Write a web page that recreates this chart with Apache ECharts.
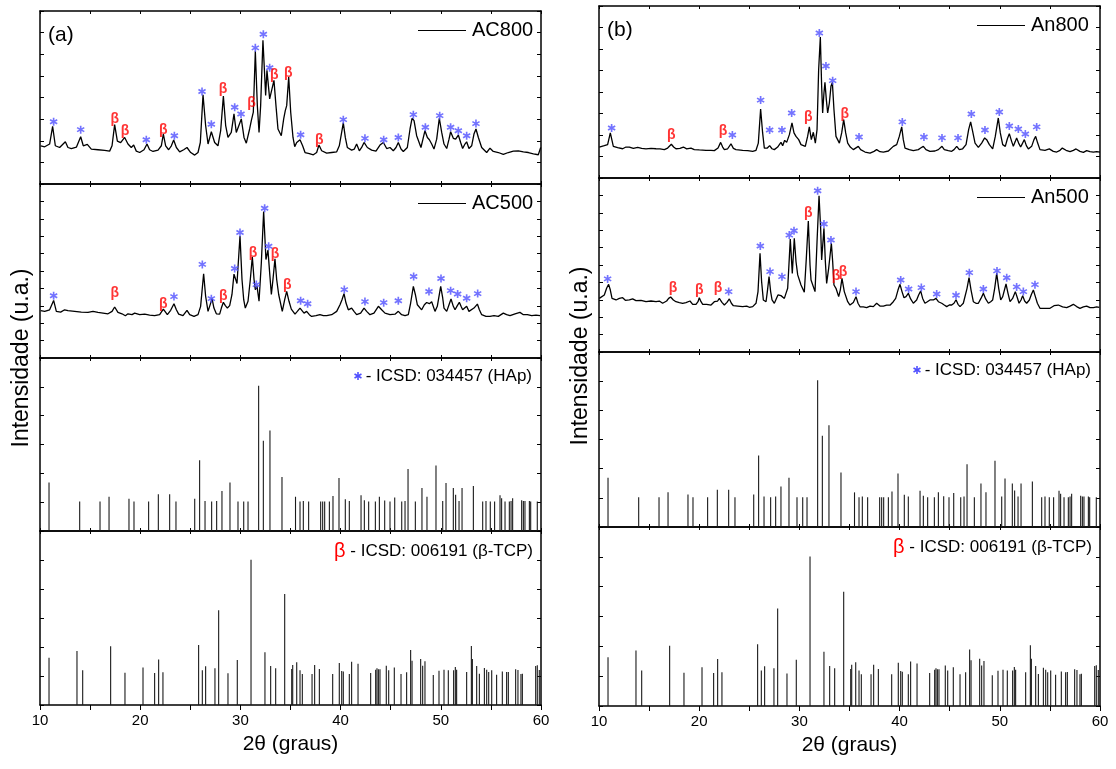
<!DOCTYPE html>
<html>
<head>
<meta charset="utf-8">
<script src="https://cdn.jsdelivr.net/npm/echarts@6/dist/echarts.min.js"></script>
<style>
  html, body { margin: 0; padding: 0; background: #ffffff; }
  #chart { width: 1116px; height: 769px; }
</style>
</head>
<body>
<div id="chart"></div>
<script>
// ---- 2θ axis -------------------------------------------------------------
const twoThetaRange = [10, 60];
const twoThetaTickStep = 5;
const twoThetaLabels = [10, 20, 30, 40, 50, 60];

// ---- Diffractograms: [2θ (°), intensity (a.u.)] ---------------------------
const ac800 = [
  [10.07,22.1],[10.47,21.5],[10.96,23.1],[11.26,33.3],[11.53,22.1],[11.96,21.1],[12.53,24.4],[12.79,21.1],
  [13.13,20.5],[13.63,21.3],[14.06,27.3],[14.32,22.1],[14.72,22.9],[15.12,20.2],[15.79,19.8],[16.45,19.4],
  [16.95,19.0],[17.19,22.1],[17.45,34.3],[17.72,24.8],[18.05,23.9],[18.45,26.9],[18.78,23.1],[19.11,21.1],
  [19.35,22.5],[19.61,19.0],[19.95,18.2],[20.38,19.8],[20.68,23.1],[20.94,19.8],[21.28,18.8],[21.78,19.6],
  [22.11,22.1],[22.31,28.9],[22.54,22.1],[22.84,19.8],[23.11,22.1],[23.34,25.4],[23.61,21.1],[23.94,18.6],
  [24.34,19.8],[24.67,21.1],[25.04,18.2],[25.44,16.7],[25.77,18.2],[26.0,24.0],[26.27,51.6],[26.53,33.8],
  [26.77,23.1],[27.1,30.2],[27.43,24.0],[27.76,22.1],[28.03,30.8],[28.3,50.8],[28.53,33.8],[28.76,26.9],
  [29.09,29.8],[29.36,40.5],[29.59,29.8],[29.76,28.9],[30.09,37.6],[30.36,26.9],[30.59,23.6],[30.92,31.8],
  [31.09,36.6],[31.29,41.5],[31.49,76.7],[31.69,45.3],[31.86,29.8],[32.02,45.3],[32.25,83.1],[32.52,51.2],
  [32.65,65.7],[32.92,49.2],[33.35,59.9],[33.55,45.3],[33.75,31.8],[34.08,27.9],[34.32,37.6],[34.48,42.4],
  [34.62,45.3],[34.82,61.8],[35.02,41.5],[35.25,26.9],[35.42,21.6],[35.62,24.0],[35.95,25.6],[36.21,22.1],
  [36.45,18.2],[36.88,17.6],[37.28,16.9],[37.61,18.2],[37.84,22.5],[38.11,19.2],[38.61,17.8],[39.11,18.2],
  [39.61,18.6],[39.87,22.1],[40.27,35.3],[40.47,26.9],[40.67,21.1],[41.1,19.6],[41.37,20.2],[41.6,23.1],
  [41.87,19.2],[42.1,21.1],[42.34,24.0],[42.67,21.1],[43.1,19.6],[43.53,19.0],[43.93,22.5],[44.27,24.0],
  [44.6,20.5],[44.93,21.1],[45.26,19.2],[45.53,21.1],[45.76,24.0],[46.03,20.2],[46.26,18.8],[46.66,21.1],
  [46.93,31.8],[47.13,38.0],[47.33,36.6],[47.59,27.9],[48.02,21.1],[48.26,26.9],[48.42,30.8],[48.66,26.9],
  [48.86,25.6],[49.09,23.1],[49.32,20.2],[49.59,25.9],[49.85,38.0],[50.09,29.8],[50.32,23.1],[50.59,20.5],
  [50.82,25.9],[50.98,30.2],[51.25,26.4],[51.48,25.9],[51.75,28.3],[51.98,24.0],[52.18,20.5],[52.41,23.1],
  [52.58,24.4],[52.81,20.5],[53.08,22.1],[53.31,28.9],[53.51,31.8],[53.75,26.9],[54.08,21.1],[54.58,18.2],
  [54.91,20.7],[55.24,18.8],[55.74,18.2],[56.24,17.1],[56.74,18.2],[57.24,19.0],[57.74,19.2],[58.24,18.6],
  [58.74,18.2],[59.24,17.4],[59.73,16.9],[59.97,21.1]
];
const ac500 = [
  [10.07,27.2],[10.47,26.8],[10.96,27.7],[11.36,33.1],[11.63,26.8],[12.06,26.4],[12.46,27.7],[12.79,27.2],
  [13.46,26.8],[14.12,26.4],[14.79,26.2],[15.29,26.8],[15.79,26.2],[16.29,25.8],[16.79,25.4],[17.19,26.8],
  [17.45,29.3],[17.78,26.2],[18.18,25.4],[18.52,24.3],[18.78,25.4],[19.18,24.9],[19.45,25.8],[19.95,24.9],
  [20.45,25.2],[20.94,24.7],[21.44,24.3],[21.94,24.9],[22.31,28.1],[22.71,24.9],[23.04,27.4],[23.37,31.2],
  [23.61,27.7],[23.84,25.2],[24.27,24.3],[24.67,27.4],[24.94,24.9],[25.37,23.9],[25.77,24.9],[26.03,29.7],
  [26.33,48.4],[26.53,35.5],[26.77,26.8],[26.93,29.7],[27.17,34.1],[27.36,28.7],[27.6,25.4],[27.93,25.2],
  [28.1,28.7],[28.3,32.0],[28.5,30.1],[28.7,28.7],[28.93,30.1],[29.16,36.5],[29.36,48.2],[29.49,48.6],
  [29.66,42.8],[29.79,54.7],[29.96,70.1],[30.16,45.1],[30.33,33.5],[30.49,28.7],[30.76,32.6],[30.99,45.1],
  [31.19,58.2],[31.36,45.1],[31.49,39.3],[31.66,41.2],[31.86,32.6],[32.09,54.7],[32.32,84.2],[32.55,56.6],
  [32.75,62.0],[32.92,48.9],[33.09,36.5],[33.25,45.1],[33.45,57.0],[33.62,45.1],[33.82,36.5],[34.18,26.8],
  [34.42,33.5],[34.62,38.3],[34.85,32.6],[35.08,28.1],[35.45,25.2],[35.68,26.8],[35.95,28.7],[36.35,25.8],
  [36.61,26.8],[36.88,24.9],[37.11,23.9],[37.54,24.3],[37.94,24.9],[38.28,24.3],[38.61,24.3],[39.11,24.9],
  [39.61,26.8],[39.94,30.6],[40.14,33.5],[40.34,37.0],[40.54,31.6],[40.77,27.7],[41.1,28.7],[41.34,26.8],
  [41.6,24.9],[42.0,25.8],[42.34,28.7],[42.6,26.8],[42.93,24.9],[43.33,25.8],[43.77,29.7],[44.1,27.7],
  [44.43,25.8],[44.93,24.9],[45.43,25.2],[45.76,26.8],[46.09,24.9],[46.43,24.3],[46.76,24.9],[46.99,31.6],
  [47.26,41.2],[47.46,36.5],[47.66,30.6],[48.09,27.7],[48.36,30.6],[48.59,31.9],[48.86,31.2],[49.09,32.3],
  [49.42,26.8],[49.65,29.7],[49.99,41.2],[50.19,34.5],[50.32,28.7],[50.59,26.8],[50.82,30.6],[51.02,33.9],
  [51.25,29.7],[51.42,27.7],[51.65,30.1],[51.85,32.0],[52.02,29.7],[52.18,27.7],[52.58,29.7],[52.81,26.8],
  [52.98,25.8],[53.31,28.7],[53.65,31.0],[53.85,27.7],[54.08,24.9],[54.51,23.9],[54.91,23.9],[55.31,24.3],
  [55.74,23.9],[56.24,25.8],[56.57,24.9],[56.91,24.3],[57.41,25.4],[57.9,26.2],[58.24,24.9],[58.64,24.9],
  [59.07,24.3],[59.5,24.7],[59.9,24.3]
];
const an800 = [
  [10.03,18.0],[10.53,18.8],[10.86,19.4],[11.13,26.2],[11.43,18.4],[11.86,17.6],[12.36,17.0],[12.69,18.0],
  [13.03,18.0],[13.43,17.2],[13.86,17.8],[14.26,17.2],[14.69,16.9],[15.19,17.2],[15.69,17.0],[16.09,16.9],
  [16.52,16.5],[16.85,17.4],[17.22,19.6],[17.45,18.0],[17.68,17.0],[18.08,17.2],[18.42,18.0],[18.75,16.9],
  [19.18,17.4],[19.51,16.5],[20.01,16.3],[20.68,16.1],[21.18,16.1],[21.51,15.9],[21.88,17.4],[22.14,20.7],
  [22.34,18.0],[22.51,16.5],[22.84,17.0],[23.17,19.9],[23.41,17.2],[23.67,16.5],[24.34,16.1],[24.84,15.9],
  [25.34,15.5],[25.67,16.1],[25.9,20.3],[26.13,40.1],[26.33,26.2],[26.5,17.4],[26.8,17.4],[27.03,18.8],
  [27.26,17.0],[27.5,16.5],[27.83,18.0],[28.0,19.4],[28.16,20.7],[28.33,18.8],[28.53,21.9],[28.73,20.7],
  [29.0,25.2],[29.26,32.0],[29.46,26.2],[29.66,24.2],[29.93,22.3],[30.16,19.4],[30.59,18.4],[30.82,24.2],
  [30.99,29.7],[31.19,22.3],[31.39,26.6],[31.59,20.3],[31.76,28.1],[31.92,62.9],[32.09,82.0],[32.22,53.3],
  [32.32,37.8],[32.45,49.4],[32.55,55.6],[32.69,45.4],[32.82,37.8],[32.99,43.6],[33.15,53.3],[33.29,55.6],
  [33.45,39.7],[33.65,24.2],[33.99,20.3],[34.22,26.2],[34.42,33.9],[34.62,26.2],[34.82,20.3],[35.08,18.0],
  [35.38,16.5],[35.55,16.9],[35.88,18.4],[36.11,16.5],[36.55,15.1],[37.05,14.5],[37.45,15.5],[37.71,16.5],
  [38.04,15.3],[38.38,15.1],[38.88,15.7],[39.37,18.4],[39.71,19.4],[39.97,24.2],[40.21,29.7],[40.37,22.3],
  [40.54,17.4],[40.97,16.5],[41.37,15.9],[41.87,16.5],[42.1,17.4],[42.37,18.4],[42.63,16.5],[43.03,15.5],
  [43.53,15.7],[43.87,16.5],[44.23,18.4],[44.46,16.5],[44.86,15.9],[45.2,15.5],[45.43,16.5],[45.7,18.4],
  [45.96,16.5],[46.29,17.0],[46.63,19.4],[46.89,28.1],[47.09,32.6],[47.29,27.1],[47.53,20.3],[47.86,17.8],
  [48.19,20.3],[48.49,23.3],[48.69,22.3],[48.96,19.4],[49.29,16.9],[49.55,24.2],[49.85,34.9],[50.05,26.2],
  [50.29,19.4],[50.55,18.4],[50.75,22.7],[50.95,25.8],[51.18,21.3],[51.35,18.4],[51.55,21.3],[51.68,23.3],
  [51.88,20.3],[52.08,18.0],[52.28,20.3],[52.45,22.3],[52.65,18.8],[52.85,16.9],[53.18,18.4],[53.41,22.3],
  [53.58,24.2],[53.78,20.3],[54.01,16.5],[54.51,16.1],[54.94,16.9],[55.34,15.5],[55.68,15.1],[56.01,16.1],
  [56.24,17.4],[56.61,16.1],[57.01,15.3],[57.34,16.1],[57.61,16.9],[58.0,15.5],[58.34,14.9],[58.67,15.9],
  [59.0,15.3],[59.34,15.1],[59.67,15.3],[60.0,15.1]
];
const an500 = [
  [10.03,30.8],[10.53,32.8],[10.76,36.6],[10.96,38.9],[11.13,35.6],[11.3,30.8],[11.7,29.9],[12.03,30.8],
  [12.36,31.2],[12.63,29.7],[13.03,29.9],[13.36,30.5],[13.69,29.5],[14.19,29.7],[14.69,28.9],[15.19,29.3],
  [15.69,28.9],[16.02,29.3],[16.35,28.0],[16.75,29.3],[16.95,30.8],[17.15,31.6],[17.42,29.9],[17.68,28.9],
  [18.02,28.4],[18.35,28.0],[18.68,28.4],[19.08,29.3],[19.35,27.4],[19.68,27.4],[19.88,28.9],[20.01,31.2],
  [20.18,28.9],[20.35,27.4],[20.74,27.4],[21.18,27.0],[21.51,28.9],[21.68,29.9],[21.84,29.3],[22.01,30.8],
  [22.27,28.5],[22.51,27.0],[22.77,28.5],[23.01,30.5],[23.21,28.0],[23.41,26.6],[23.84,26.4],[24.34,26.1],
  [24.74,26.4],[25.0,25.7],[25.34,26.1],[25.67,28.0],[25.87,34.7],[26.07,56.7],[26.23,40.4],[26.4,29.9],
  [26.67,28.9],[26.8,34.7],[26.97,43.3],[27.13,34.7],[27.27,29.9],[27.5,28.0],[27.66,28.0],[27.86,32.8],
  [28.0,33.7],[28.16,32.4],[28.33,33.1],[28.5,30.8],[28.66,33.7],[28.83,36.6],[28.99,53.8],[29.09,64.9],
  [29.29,45.2],[29.49,65.3],[29.66,52.0],[29.83,44.3],[30.16,38.5],[30.49,34.3],[30.69,53.8],[30.89,75.3],
  [31.06,50.0],[31.16,41.4],[31.32,40.4],[31.56,34.7],[31.76,63.4],[31.96,89.8],[32.12,71.1],[32.22,52.9],
  [32.45,71.1],[32.59,52.0],[32.72,39.4],[32.92,48.1],[33.19,62.5],[33.32,52.0],[33.45,38.5],[33.65,36.6],
  [33.92,31.8],[34.08,35.6],[34.25,42.3],[34.48,34.7],[34.65,33.7],[34.82,28.9],[35.05,27.0],[35.38,28.5],
  [35.65,31.8],[35.85,28.0],[36.05,26.0],[36.38,25.9],[36.71,25.5],[37.05,26.4],[37.38,26.1],[37.71,28.0],
  [38.04,26.4],[38.38,26.4],[38.71,26.9],[39.04,26.9],[39.37,28.9],[39.61,30.8],[39.84,35.6],[40.04,38.9],
  [40.24,34.7],[40.44,31.2],[40.64,31.8],[40.87,33.7],[41.1,30.5],[41.37,28.0],[41.7,29.9],[41.9,32.8],
  [42.1,35.1],[42.3,30.8],[42.53,28.0],[42.77,28.9],[43.03,29.9],[43.37,29.9],[43.63,30.8],[43.87,28.9],
  [44.2,28.0],[44.46,27.0],[44.7,26.1],[44.96,27.0],[45.2,27.0],[45.43,28.0],[45.63,30.0],[45.83,27.4],
  [46.03,26.1],[46.36,28.0],[46.53,28.9],[46.73,36.6],[46.93,42.7],[47.13,35.6],[47.36,28.9],[47.62,28.0],
  [47.86,28.0],[48.12,30.8],[48.36,33.7],[48.59,30.5],[48.86,28.0],[49.09,28.9],[49.29,29.9],[49.49,36.6],
  [49.69,45.2],[49.89,36.6],[50.09,29.9],[50.29,31.8],[50.62,39.1],[50.82,33.7],[51.02,28.9],[51.28,30.8],
  [51.55,34.7],[51.75,31.2],[51.92,28.0],[52.12,29.9],[52.28,32.4],[52.48,29.3],[52.68,28.0],[52.95,29.9],
  [53.15,33.1],[53.35,35.6],[53.55,31.8],[53.75,28.0],[54.01,25.1],[54.51,25.1],[55.01,25.1],[55.41,26.6],
  [55.84,27.0],[56.27,25.9],[56.67,25.5],[57.01,26.4],[57.34,27.4],[57.67,26.1],[58.0,25.1],[58.34,25.9],
  [58.67,26.4],[59.0,25.5],[59.34,25.5],[59.67,25.9],[59.93,25.7]
];

// ---- Phase marks on the diffractograms: [2θ, mark height] ----------------
const ac800Hap = [[11.36,36.0],[14.06,31.4],[20.61,25.6],[23.41,27.9],[26.17,53.5],[27.1,34.5],[29.43,44.4],
  [30.06,40.5],[31.49,78.7],[32.29,86.6],[32.92,67.2],[36.01,28.5],[40.27,37.2],[42.43,26.4],[44.3,25.6],
  [45.76,26.9],[47.26,40.1],[48.46,32.8],[49.89,39.5],[50.98,32.8],[51.75,30.8],[52.58,27.9],[53.51,34.9]];
const ac800Tcp = [[17.45,37.6],[18.48,30.4],[22.31,31.2],[28.26,54.7],[31.12,46.9],[33.39,62.8],[34.78,64.1],[37.88,25.6]];
const ac500Hap = [[11.36,35.8],[23.37,35.3],[26.2,53.8],[27.1,34.1],[29.43,51.4],[29.96,72.1],[31.59,42.2],
  [32.42,86.1],[32.82,64.2],[36.01,32.9],[36.71,31.2],[40.37,39.3],[42.43,32.4],[44.3,31.8],[45.76,32.9],
  [47.29,46.8],[48.82,38.2],[50.02,45.7],[50.98,38.7],[51.68,36.8],[52.58,34.3],[53.68,37.0]];
const ac500Tcp = [[17.45,37.4],[22.31,31.2],[28.3,35.4],[31.26,60.5],[33.45,59.9],[34.68,41.6]];
const an800Hap = [[11.26,29.1],[23.31,25.0],[26.13,45.3],[27.03,27.9],[28.26,27.9],[29.23,37.8],[31.99,84.3],
  [32.65,65.1],[33.32,56.6],[35.95,23.8],[40.27,32.6],[42.43,23.8],[44.23,23.3],[45.83,23.3],[47.16,37.2],
  [48.52,27.9],[49.95,38.4],[50.95,30.2],[51.85,28.5],[52.55,25.6],[53.68,29.7]];
const an800Tcp = [[17.22,25.0],[22.37,27.5],[30.89,35.3],[34.52,37.4]];
const an500Hap = [[10.86,42.0],[22.94,34.7],[26.1,60.9],[27.07,46.2],[28.26,43.3],[28.99,67.2],[29.46,69.7],
  [31.82,92.7],[32.45,73.6],[33.15,64.4],[35.65,34.7],[40.11,41.4],[40.9,36.2],[42.17,37.0],[43.7,33.3],
  [45.63,32.6],[46.96,45.6],[48.36,36.2],[49.72,46.6],[50.69,42.7],[51.68,37.4],[52.35,34.7],[53.51,38.7]];
const an500Tcp = [[17.38,36.6],[20.01,35.6],[21.88,36.6],[30.89,79.7],[33.65,43.7],[34.35,45.8]];

// ---- Reference patterns: [2θ, relative intensity] -----------------------
const hapIcsd034457 = [
  [10.9,28.1],[13.96,17.0],[15.99,17.0],[16.89,19.8],[18.88,18.6],[19.38,17.0],[20.84,17.0],[21.81,21.3],
  [22.94,21.3],[23.57,17.0],[25.44,18.6],[25.93,40.9],[26.47,17.4],[27.13,17.0],[27.63,17.4],[28.16,23.1],
  [28.96,28.1],[29.76,17.0],[30.33,17.0],[30.76,17.0],[31.82,83.9],[32.29,52.1],[32.95,58.1],[34.15,31.2],
  [35.5,19.8],[35.95,17.0],[36.28,17.4],[36.81,17.0],[38.01,17.0],[38.21,17.0],[38.41,17.0],[38.88,17.0],
  [39.24,20.3],[39.84,30.6],[40.47,18.4],[40.87,17.4],[42.04,20.7],[42.37,17.8],[42.8,17.0],[43.47,17.0],
  [43.87,19.8],[44.4,17.6],[44.93,17.0],[45.4,19.4],[46.1,17.0],[46.43,17.4],[46.73,35.9],[47.46,17.0],
  [48.12,24.8],[48.62,19.8],[49.52,37.8],[50.19,17.4],[50.52,27.7],[51.25,24.8],[51.48,20.9],[51.82,17.4],
  [52.12,24.8],[53.25,26.0],[54.18,17.0],[54.51,17.4],[54.94,17.0],[55.37,17.0],[55.91,20.7],[56.07,19.0],
  [56.41,17.0],[56.84,17.0],[57.01,17.4],[57.17,19.0],[58.07,17.8],[58.24,17.4],[58.4,17.4],[58.84,17.4],
  [58.97,17.0],[59.63,17.0]
];
const tcpIcsd006191 = [
  [10.9,27.2],[13.69,31.0],[14.26,19.9],[17.05,33.7],[18.48,18.6],[20.28,21.6],[21.44,18.4],[21.84,26.2],
  [22.27,18.8],[25.83,34.5],[26.2,19.9],[26.53,22.2],[27.46,21.1],[27.83,54.4],[28.76,18.2],[29.69,25.9],
  [31.06,83.5],[32.45,30.3],[33.02,22.4],[33.52,21.1],[34.42,63.8],[35.12,20.7],[35.22,23.0],[35.62,24.5],
  [35.95,19.9],[36.18,17.8],[37.15,17.8],[37.41,23.0],[37.88,20.7],[39.21,17.8],[39.87,24.1],[40.11,19.5],
  [40.27,19.2],[40.87,17.8],[41.1,24.9],[41.74,23.7],[43.0,18.4],[43.5,20.3],[43.63,21.1],[43.77,20.5],
  [43.93,20.5],[44.56,22.6],[44.8,19.9],[45.36,21.6],[46.03,17.8],[46.59,18.8],[46.99,31.6],[47.13,25.5],
  [47.99,26.4],[48.19,22.6],[48.42,25.1],[49.25,17.2],[49.82,19.7],[50.32,20.3],[50.75,19.9],[51.28,19.9],
  [51.45,21.8],[51.58,20.3],[52.58,18.9],[53.05,33.9],[53.15,26.4],[53.58,22.4],[53.85,17.9],[54.35,21.3],
  [54.58,20.3],[54.78,18.9],[55.08,19.9],[55.57,17.4],[56.14,19.3],[56.57,18.9],[56.74,19.0],[57.47,20.5],
  [57.7,20.1],[58.0,17.8],[58.14,18.0],[59.47,22.4],[59.63,22.8],[59.83,20.1]
];

// ---- Styling ------------------------------------------------------------
const FONT = '"Liberation Sans", Arial, Helvetica, sans-serif';
const HAP_BLUE = '#5050ff';
const TCP_RED = '#ff0000';
// six-spoke asterisk built from three bars (half-length 5, half-width 1)
const STAR_BARS = [
  [[-1,-5],[1,-5],[1,5],[-1,5]],
  [[3.83,-3.37],[4.83,-1.63],[-3.83,3.37],[-4.83,1.63]],
  [[4.83,1.63],[3.83,3.37],[-4.83,-1.63],[-3.83,-3.37]]
];
const STAR_PATH = 'path://' + STAR_BARS.map(b => 'M' + b.map(pt => pt.join(',')).join('L') + 'Z').join(' ');

// Two panels, each with four stacked frames sharing the 2θ axis
const panels = [
  {
    tag: '(a)', left: 40, right: 541, rows: [11, 184, 358, 531, 705], tagY: 35,
    samples: [
      { name: 'AC800', data: ac800, hap: ac800Hap, tcp: ac800Tcp, splits: 8 },
      { name: 'AC500', data: ac500, hap: ac500Hap, tcp: ac500Tcp, splits: 10 }
    ]
  },
  {
    tag: '(b)', left: 599, right: 1100, rows: [6, 178, 352, 527, 706], tagY: 30,
    samples: [
      { name: 'An800', data: an800, hap: an800Hap, tcp: an800Tcp, splits: 8 },
      { name: 'An500', data: an500, hap: an500Hap, tcp: an500Tcp, splits: 10 }
    ]
  }
];

const grid = [], xAxis = [], yAxis = [], series = [], graphic = [];

function addFrame(p, r, splits) {
  const g = grid.length;
  const top = p.rows[r], bottom = p.rows[r + 1];
  const isLast = r === 3;
  grid.push({ left: p.left, width: p.right - p.left, top: top, height: bottom - top });
  const line = { show: true, onZero: false, lineStyle: { color: '#000', width: 1.5 } };
  const xBase = {
    gridIndex: g, type: 'value', min: twoThetaRange[0], max: twoThetaRange[1], interval: twoThetaTickStep,
    axisLine: line, splitLine: { show: false }
  };
  xAxis.push(Object.assign({}, xBase, {
    position: 'bottom',
    axisTick: { show: true, inside: !isLast, length: isLast ? 5 : 3, lineStyle: { color: '#000', width: 1 } },
    axisLabel: {
      show: isLast, color: '#000', fontSize: 15, fontFamily: FONT, margin: 8,
      formatter: v => (twoThetaLabels.indexOf(v) >= 0 ? String(v) : '')
    },
    name: isLast ? '2θ (graus)' : '', nameLocation: 'middle', nameGap: 29,
    nameTextStyle: { color: '#000', fontSize: 21, fontFamily: FONT }
  }));
  xAxis.push(Object.assign({}, xBase, {
    position: 'top',
    axisTick: { show: true, inside: true, length: 3, lineStyle: { color: '#000', width: 1 } },
    axisLabel: { show: false }
  }));
  const yBase = {
    gridIndex: g, type: 'value', min: 0, max: 100, interval: 100 / splits,
    axisLine: line, axisLabel: { show: false }, splitLine: { show: false },
    axisTick: { show: true, inside: true, length: 4, lineStyle: { color: '#000', width: 1 } }
  };
  yAxis.push(Object.assign({}, yBase, { position: 'left' }));
  yAxis.push(Object.assign({}, yBase, { position: 'right' }));
  return { x: 2 * g, y: 2 * g, top: top };
}

function stickSeries(ax, data) {
  return {
    type: 'custom', xAxisIndex: ax.x, yAxisIndex: ax.y, data: data, clip: true,
    encode: { x: 0, y: 1 },
    renderItem: function (params, api) {
      const p0 = api.coord([api.value(0), 0]);
      const p1 = api.coord([api.value(0), api.value(1)]);
      return {
        type: 'line',
        shape: { x1: p0[0], y1: p0[1], x2: p1[0], y2: p1[1] },
        style: { stroke: '#1a1a1a', lineWidth: 1.1 }
      };
    }
  };
}

// asterisk drawn as three bars around (cx, cy), scale s
function starGraphic(cx, cy, s) {
  return {
    type: 'group', x: cx, y: cy,
    children: STAR_BARS.map(b => ({
      type: 'polygon', shape: { points: b.map(pt => [pt[0] * s, pt[1] * s]) },
      style: { fill: HAP_BLUE }
    }))
  };
}

panels.forEach(p => {
  // diffractogram frames
  p.samples.forEach((s, r) => {
    const ax = addFrame(p, r, s.splits);
    series.push({
      type: 'line', name: s.name, xAxisIndex: ax.x, yAxisIndex: ax.y, data: s.data,
      showSymbol: false, symbol: 'none', lineStyle: { color: '#000', width: 1.3 }, z: 2
    });
    series.push({
      type: 'scatter', xAxisIndex: ax.x, yAxisIndex: ax.y, data: s.hap,
      symbol: STAR_PATH, symbolSize: 8, itemStyle: { color: HAP_BLUE }, z: 3
    });
    series.push({
      type: 'scatter', xAxisIndex: ax.x, yAxisIndex: ax.y, data: s.tcp,
      symbol: 'circle', symbolSize: 0.1, itemStyle: { color: 'rgba(0,0,0,0)' }, z: 3,
      label: {
        show: true, position: 'inside', formatter: 'β', color: TCP_RED,
        fontSize: 14, fontWeight: 'bold', fontFamily: FONT
      }
    });
    // legend entry
    const ly = ax.top + 19.5;
    graphic.push({ type: 'line', shape: { x1: p.right - 123, y1: ly, x2: p.right - 75, y2: ly },
      style: { stroke: '#000', lineWidth: 1 } });
    graphic.push({ type: 'text', style: { text: s.name, x: p.right - 69, y: ly, fill: '#000',
      font: '20px ' + FONT, align: 'left', verticalAlign: 'middle' } });
  });

  // reference stick patterns
  const axHap = addFrame(p, 2, 6);
  series.push(stickSeries(axHap, hapIcsd034457));
  const hy = axHap.top + 18;
  graphic.push(starGraphic(p.right - 183, hy, 0.8));
  graphic.push({ type: 'text', style: { text: '- ICSD: 034457 (HAp)', x: p.right - 9, y: hy, fill: '#000',
    font: '17px ' + FONT, align: 'right', verticalAlign: 'middle' } });

  const axTcp = addFrame(p, 3, 6);
  series.push(stickSeries(axTcp, tcpIcsd006191));
  const ty = axTcp.top + 20;
  graphic.push({ type: 'text', style: { text: 'β', x: p.right - 207, y: ty, fill: TCP_RED,
    font: '20px ' + FONT, align: 'left', verticalAlign: 'middle' } });
  graphic.push({ type: 'text', style: { text: '- ICSD: 006191 (β-TCP)', x: p.right - 8, y: ty, fill: '#000',
    font: '17px ' + FONT, align: 'right', verticalAlign: 'middle' } });

  // panel tag and intensity label
  graphic.push({ type: 'text', style: { text: p.tag, x: p.left + 8, y: p.tagY, fill: '#000',
    font: '21px ' + FONT, align: 'left', verticalAlign: 'middle' } });
  graphic.push({ type: 'text', rotation: Math.PI / 2, x: p.left - 18, y: (p.rows[0] + p.rows[4]) / 2,
    style: { text: 'Intensidade (u.a.)', x: 0, y: 0, fill: '#000', font: '23px ' + FONT,
      align: 'center', verticalAlign: 'middle' } });
});

const chart = echarts.init(document.getElementById('chart'), null, { renderer: 'canvas' });
chart.setOption({
  animation: false,
  backgroundColor: '#ffffff',
  grid: grid, xAxis: xAxis, yAxis: yAxis, series: series, graphic: graphic
});
</script>
</body>
</html>
